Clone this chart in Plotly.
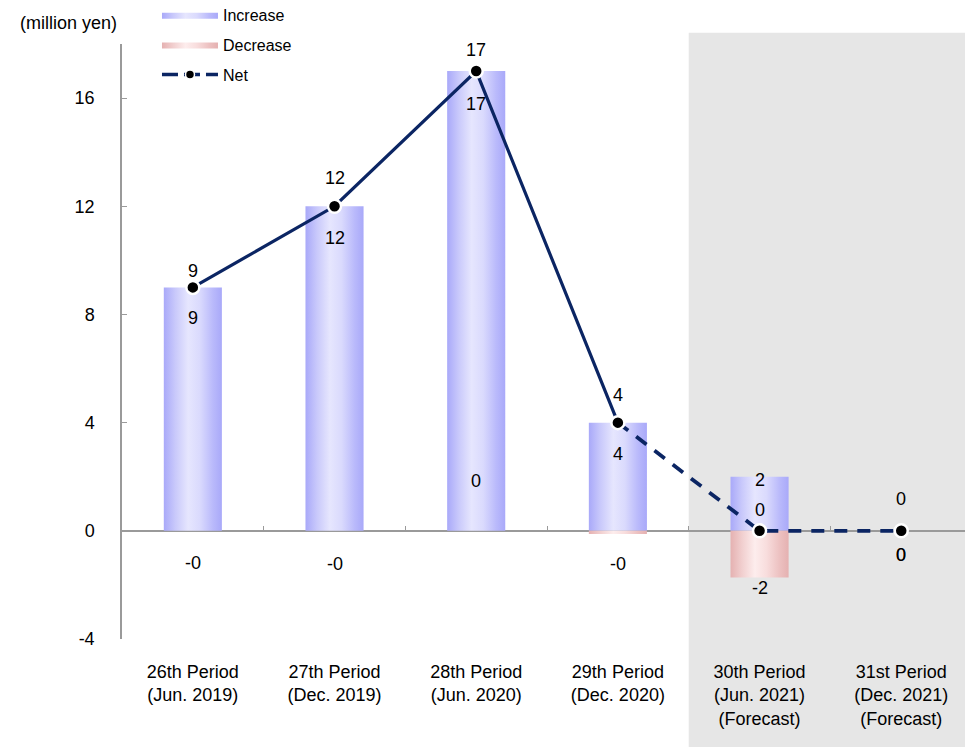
import plotly.graph_objects as go

# Period categories and values (million yen)
periods = [
    "26th Period<br>(Jun. 2019)",
    "27th Period<br>(Dec. 2019)",
    "28th Period<br>(Jun. 2020)",
    "29th Period<br>(Dec. 2020)",
    "30th Period<br>(Jun. 2021)<br>(Forecast)",
    "31st Period<br>(Dec. 2021)<br>(Forecast)",
]
increase = [9, 12, 17, 4, 2, 0]
decrease = [-0.02, -0.02, 0, -0.12, -1.73, 0]
net = [9, 12, 17, 4, 0, 0]
y_ticks = [-4, 0, 4, 8, 12, 16]
y_tick_text = ["-4", "0", "4", "8", "12", "16"]

# label offsets in pixels (relative to the value they describe)
inc_shift = [-31, -32, -33, -31, -3, -24]
dec_shift = [-32, -33, 50, -30, -10, -24]
net_shift = [16, 28, 21, 28, 21, 32]

FONT = "Liberation Sans, Arial, sans-serif"
NAVY = "#0b2563"
HALF = 0.205
FS = 18

inc_scale = [[0, "#a9a9f9"], [0.2, "#c9c9fb"], [0.42, "#e6e6fe"],
             [0.62, "#dadafd"], [0.85, "#b9b9fb"], [1, "#a9a9f9"]]
dec_scale = [[0, "#e5b1b1"], [0.2, "#f1cfcf"], [0.42, "#fdeded"],
             [0.62, "#f8dddd"], [0.85, "#ecc0c0"], [1, "#e5b1b1"]]

fig = go.Figure()


def add_bars(values, name, scale):
    for i, v in enumerate(values):
        fig.add_trace(go.Scatter(
            x=[i - HALF, i + HALF, i + HALF, i - HALF, i - HALF],
            y=[0, 0, v, v, 0],
            mode="lines", fill="toself",
            line=dict(width=0, color=scale[0][1]),
            fillgradient=dict(type="horizontal", colorscale=scale),
            name=name, legendgroup=name, showlegend=(i == 0),
            hoverinfo="skip",
        ))


add_bars(increase, "Increase", inc_scale)
add_bars(decrease, "Decrease", dec_scale)

# actual results: solid segment
fig.add_trace(go.Scatter(
    x=list(range(4)), y=net[:4], mode="lines",
    line=dict(color=NAVY, width=3.2), showlegend=False, hoverinfo="skip",
))
# forecast: dashed segment
fig.add_trace(go.Scatter(
    x=list(range(3, len(net))), y=net[3:], mode="lines",
    line=dict(color=NAVY, width=3.8, dash="13px,10px"),
    showlegend=False, hoverinfo="skip",
))
# net markers on top of both segments
fig.add_trace(go.Scatter(
    x=list(range(len(net))), y=net, mode="markers", name="Net",
    legendgroup="Net", showlegend=False,
    marker=dict(color="black", size=13, line=dict(color="white", width=2.5)),
    hoverinfo="skip",
))
# legend entry for the net line
fig.add_trace(go.Scatter(
    x=[None], y=[None], mode="lines+markers", name="Net", legendgroup="Net",
    line=dict(color=NAVY, width=3.5, dash="16px,6px"),
    marker=dict(color="black", size=9, line=dict(color="white", width=1.5)),
))

# invisible trace to carry the secondary tick axis at zero
fig.add_trace(go.Scatter(x=[0], y=[0], xaxis="x2", mode="markers",
                         marker=dict(opacity=0), showlegend=False,
                         hoverinfo="skip"))

annotations = []
for i in range(len(periods)):
    annotations.append(dict(x=i, y=increase[i], text=f"{increase[i]:.0f}",
                            yshift=inc_shift[i]))
    annotations.append(dict(x=i, y=decrease[i], text=f"{decrease[i]:.0f}",
                            yshift=dec_shift[i]))
    annotations.append(dict(x=i, y=net[i], text=f"{net[i]:.0f}",
                            yshift=net_shift[i]))
for a in annotations:
    a.update(xref="x", yref="y", showarrow=False,
             font=dict(family=FONT, size=FS, color="black"))
annotations.append(dict(
    x=-0.064, y=1.0, xref="paper", yref="paper", xanchor="center",
    yanchor="bottom", yshift=9, text="(million yen)", showarrow=False,
    font=dict(family=FONT, size=FS, color="black"),
))

XR = [-0.5, 5.45]
fig.update_layout(
    width=965, height=747,
    margin=dict(l=122, r=0, t=44, b=108, autoexpand=False),
    plot_bgcolor="white", paper_bgcolor="white",
    font=dict(family=FONT, size=FS, color="black"),
    annotations=annotations,
    shapes=[dict(type="rect", xref="x", yref="paper", x0=3.5, x1=6,
                 y0=-0.2, y1=1.019, fillcolor="#e6e6e6", line_width=0,
                 layer="below")],
    xaxis=dict(range=XR, tickmode="array", tickvals=list(range(len(periods))),
               ticktext=periods, showgrid=False, zeroline=False,
               showline=False, ticks="", ticklabelstandoff=20,
               tickfont=dict(size=FS)),
    xaxis2=dict(range=XR, overlaying="x", anchor="free", position=0.1815,
                side="bottom", tickmode="array",
                tickvals=[0.5, 1.5, 2.5, 3.5, 4.5], showticklabels=False,
                ticks="inside", ticklen=5, tickcolor="#9a9a9a",
                showgrid=False, zeroline=False, showline=False),
    yaxis=dict(range=[-4, 18], tickmode="array", tickvals=y_ticks,
               ticktext=y_tick_text,
               showgrid=False, zeroline=True, zerolinecolor="#9a9a9a",
               zerolinewidth=1.5, showline=True, linecolor="#9a9a9a",
               linewidth=1.5, ticks="inside", ticklen=5, tickcolor="#9a9a9a",
               ticklabelstandoff=22, tickfont=dict(size=FS)),
    legend=dict(x=0.0415, y=1.0775, xanchor="left", yanchor="top",
                bgcolor="rgba(0,0,0,0)", font=dict(size=16),
                itemwidth=56, tracegroupgap=6, traceorder="grouped"),
    showlegend=True,
)

fig.write_html("out.html")
